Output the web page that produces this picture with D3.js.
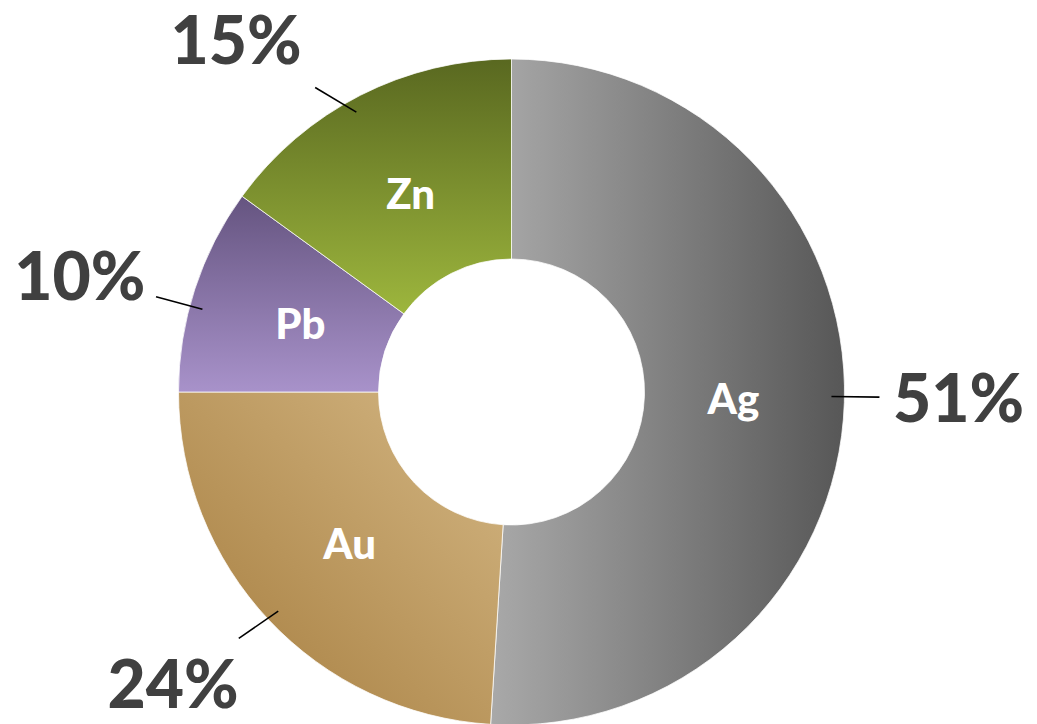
<!DOCTYPE html>
<html>
<head>
<meta charset="utf-8">
<script src="https://cdn.jsdelivr.net/npm/d3@7"></script>
<style>
  html, body { margin: 0; padding: 0; background: #ffffff; }
  svg { display: block; }
</style>
</head>
<body>
<svg id="chart" width="1037" height="724"></svg>
<script>
// ---- data ----
const categories = ["Ag", "Au", "Pb", "Zn"];
const values = [51, 24, 10, 15];
const percentLabels = ["51%", "24%", "10%", "15%"];

// ---- layout (degrees nudge of outer label direction) ----
const labelAngleShift = [-1, 0, -3, -2];

// ---- styles ----
const gradStops = [
  { id: "gAg", x1: "0", y1: "0", x2: "1", y2: "0", from: "#a9a9a9", to: "#575757" },
  { id: "gAu", x1: "1", y1: "0", x2: "0", y2: "1", from: "#d4b784", to: "#a47b3c" },
  { id: "gPb", x1: "0", y1: "0", x2: "0", y2: "1", from: "#655480", to: "#a892ca" },
  { id: "gZn", x1: "0", y1: "0", x2: "0", y2: "1", from: "#596820", to: "#9db63d" }
];

const W = 1037, H = 724;
const cx = 511.5, cy = 392;
const outerR = 333, innerR = 133;

const svg = d3.select("#chart");
const defs = svg.append("defs");
gradStops.forEach(g => {
  const lg = defs.append("linearGradient").attr("id", g.id)
    .attr("x1", g.x1).attr("y1", g.y1).attr("x2", g.x2).attr("y2", g.y2);
  lg.append("stop").attr("offset", "0%").attr("stop-color", g.from);
  lg.append("stop").attr("offset", "100%").attr("stop-color", g.to);
});

const data = categories.map((c, i) => ({ name: c, value: values[i], label: percentLabels[i], fill: "url(#" + gradStops[i].id + ")", shift: labelAngleShift[i] }));

const pie = d3.pie().sort(null).value(d => d.value);
const arcs = pie(data);
const arc = d3.arc().innerRadius(innerR).outerRadius(outerR);
const labelArc = d3.arc().innerRadius(222).outerRadius(222);

const g = svg.append("g").attr("transform", `translate(${cx},${cy})`);

g.selectAll("path.slice")
  .data(arcs)
  .join("path")
  .attr("class", "slice")
  .attr("d", arc)
  .attr("fill", d => d.data.fill)
  .attr("stroke", "#ffffff")
  .attr("stroke-width", 0.75);

// inner category labels
g.selectAll("text.cat")
  .data(arcs)
  .join("text")
  .attr("class", "cat")
  .attr("transform", d => `translate(${labelArc.centroid(d)})`)
  .attr("text-anchor", "middle")
  .attr("dy", "0.36em")
  .attr("fill", "#ffffff")
  .style("font-family", "Lato, 'Open Sans', sans-serif")
  .style("font-weight", "900")
  .style("font-size", "42px")
  .text(d => d.data.name);

// outer percent labels with leader lines
const lineStartR = 320, lineLen = 48, labelR = 447;
const minY = 40 - cy, maxY = 684 - cy;

arcs.forEach(d => {
  const a = (d.startAngle + d.endAngle) / 2 + d.data.shift * Math.PI / 180;
  const sx = Math.sin(a) * lineStartR, sy = -Math.cos(a) * lineStartR;
  let lx = Math.sin(a) * labelR, ly = -Math.cos(a) * labelR;
  if (ly < minY || ly > maxY) {
    ly = Math.max(minY, Math.min(maxY, ly));
    lx = Math.sign(lx) * Math.sqrt(Math.max(0, labelR * labelR - ly * ly));
  }
  const dx = lx - sx, dy = ly - sy, len = Math.hypot(dx, dy);
  const ex = sx + dx / len * lineLen, ey = sy + dy / len * lineLen;
  g.append("line")
    .attr("x1", sx).attr("y1", sy).attr("x2", ex).attr("y2", ey)
    .attr("stroke", "#000000").attr("stroke-width", 1.6);
  g.append("text")
    .attr("x", lx).attr("y", ly)
    .attr("text-anchor", "middle")
    .attr("dy", "0.36em")
    .attr("fill", "#404040")
    .style("font-family", "Lato, 'Open Sans', sans-serif")
    .style("font-weight", "900")
    .style("font-size", "66px")
    .text(d.data.label);
});
</script>
</body>
</html>
